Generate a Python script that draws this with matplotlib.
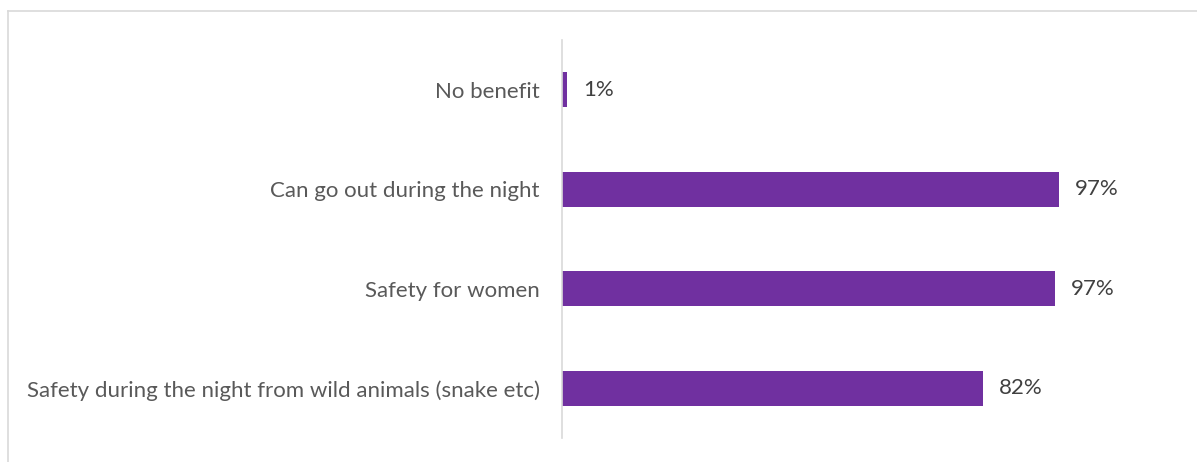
import matplotlib
matplotlib.use('Agg')
import matplotlib.pyplot as plt
from matplotlib.lines import Line2D

categorias = ['No benefit',
              'Can go out during the night',
              'Safety for women',
              'Safety during the night from wild animals (snake etc)']
valores = [1.0, 97.3, 96.5, 82.4]
etiquetas = ['1%', '97%', '97%', '82%']

plt.rcParams['font.family'] = ['Lato', 'DejaVu Sans']

W, H = 1197, 462
figu = plt.figure(figsize=(W / 100, H / 100), dpi=100)
ax = figu.add_axes([562 / W, 24 / H, (1073 - 562) / W, 398 / H])

pos = list(range(len(categorias)))
ax.barh(pos, valores, height=0.35, color='#7030A0')
ax.set_xlim(0, 100)
ax.set_ylim(3.5, -0.5)

for p, v, e in zip(pos, valores, etiquetas):
    ax.annotate(e, (v, p), xytext=(11.5, 0), textcoords='offset points',
                va='center', ha='left', fontsize=16, color='#404040')

ax.set_yticks(pos)
ax.set_yticklabels(categorias, fontsize=16, color='#595959')
ax.tick_params(axis='y', length=0, pad=16)
ax.set_xticks([])
for s in ['top', 'right', 'bottom']:
    ax.spines[s].set_visible(False)
ax.spines['left'].set_color('#d9d9d9')
ax.spines['left'].set_linewidth(1.2)

# borde del área del gráfico
figu.add_artist(Line2D([7.5 / W, 1], [1 - 10.5 / H, 1 - 10.5 / H], color='#d9d9d9', lw=1.2))
figu.add_artist(Line2D([7.5 / W, 7.5 / W], [0, 1 - 10.5 / H], color='#d9d9d9', lw=1.2))

figu.savefig('out.png', dpi=100)
